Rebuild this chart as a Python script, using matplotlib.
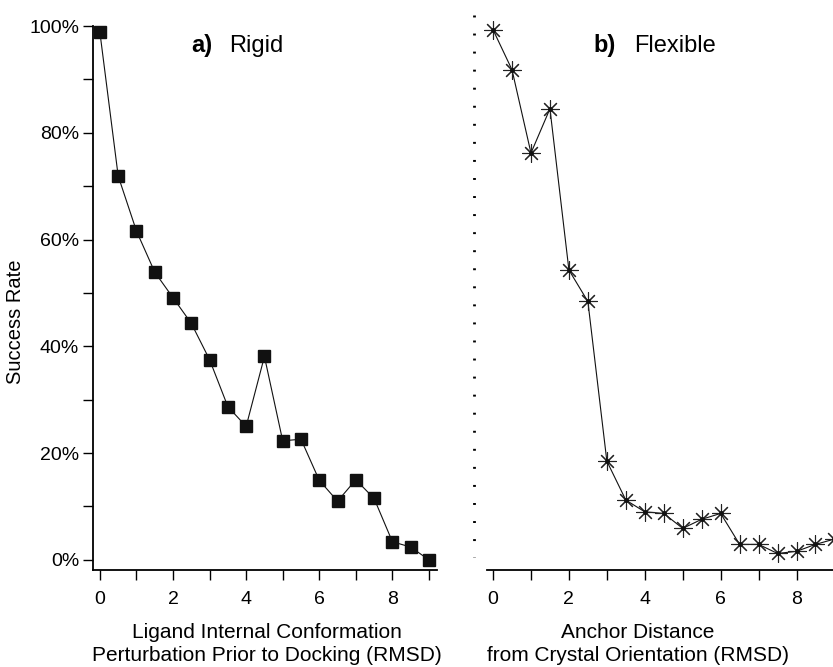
import numpy as np
import matplotlib
matplotlib.use("Agg")
import matplotlib.pyplot as plt
from matplotlib.lines import Line2D
from matplotlib.ticker import FuncFormatter, MultipleLocator

plt.rcParams['font.family'] = ['Liberation Sans', 'DejaVu Sans']

# data
rigid_x = [0, 0.5, 1, 1.5, 2, 2.5, 3, 3.5, 4, 4.5, 5, 5.5, 6, 6.5, 7, 7.5, 8, 8.5, 9]
rigid_y = [98.8, 71.9, 61.6, 53.9, 49.1, 44.3, 37.5, 28.7, 25.0, 38.1, 22.3, 22.6,
           14.9, 11.0, 15.0, 11.5, 3.4, 2.4, 0.0]
flex_x = [0, 0.5, 1, 1.5, 2, 2.5, 3, 3.5, 4, 4.5, 5, 5.5, 6, 6.5, 7, 7.5, 8, 8.5, 9]
flex_y = [99.3, 91.8, 76.2, 84.5, 54.3, 48.4, 18.5, 11.2, 9.0, 8.7, 5.9, 7.6,
          8.7, 2.9, 2.9, 1.2, 1.6, 2.9, 3.9]
yticks = [0, 20, 40, 60, 80, 100]
xticks = [0, 2, 4, 6, 8]

fig = plt.figure(figsize=(8.33, 6.67), dpi=100)
ax1 = fig.add_axes([0.1116, 0.1454, 0.413, 0.8156])
ax2 = fig.add_axes([0.5846, 0.1454, 0.434, 0.8156])

ax1.plot(rigid_x, rigid_y, color='#111111', lw=0.8, marker='s', ms=8,
         mfc='#111111', mec='#111111', clip_on=False, zorder=3)
ax2.plot(flex_x, flex_y, color='#111111', lw=0.8, marker=(8, 2, 0), ms=13,
         mec='#222222', mew=0.8, clip_on=False, zorder=3)
ax2.plot(flex_x, flex_y, ls='none', marker='o', ms=2.5, color='#111111',
         clip_on=False, zorder=4)

ax1.set_xlim(-0.19, 9.22)
ax2.set_xlim(-0.16, 9.37)
for ax in (ax1, ax2):
    ax.set_ylim(-1.9, 100)
    ax.spines['top'].set_visible(False)
    ax.spines['right'].set_visible(False)
    ax.spines['bottom'].set_linewidth(1.3)
    ax.spines['left'].set_linewidth(1.3)
    ax.set_xticks(xticks)
    ax.xaxis.set_minor_locator(MultipleLocator(1))
    ax.tick_params(axis='both', which='both', direction='out', length=7,
                   width=1, labelsize=14, pad=8)

ax1.set_yticks(yticks)
ax1.yaxis.set_minor_locator(MultipleLocator(10))
ax1.yaxis.set_major_formatter(FuncFormatter(lambda v, p: '%d%%' % v))
ax1.tick_params(axis='y', which='both', pad=3)

ax2.spines['left'].set_visible(False)
ax2.set_yticks([])
ax2.yaxis.set_minor_locator(plt.NullLocator())

ax1.set_ylabel('Success Rate', fontsize=14.5)
ax1.yaxis.set_label_coords(-0.198, 0.456, transform=ax1.transAxes)
ax1.set_xlabel('Ligand Internal Conformation\nPerturbation Prior to Docking (RMSD)',
               fontsize=15, linespacing=1.3)
ax2.set_xlabel('Anchor Distance\nfrom Crystal Orientation (RMSD)',
               fontsize=15, linespacing=1.3)
ax1.xaxis.set_label_coords(0.506, -0.097, transform=ax1.transAxes)
ax2.xaxis.set_label_coords(0.418, -0.097, transform=ax2.transAxes)

fig.text(0.230, 0.922, 'a)', fontsize=17, fontweight='bold', va='baseline')
fig.text(0.275, 0.922, 'Rigid', fontsize=17, va='baseline')
fig.text(0.712, 0.922, 'b)', fontsize=17, fontweight='bold', va='baseline')
fig.text(0.761, 0.922, 'Flexible', fontsize=17, va='baseline')

# dotted divider on the left of panel b
fig.add_artist(Line2D([474 / 833, 474 / 833], [1 - 15 / 667, 1 - 557 / 667],
                      transform=fig.transFigure, color='black', lw=2,
                      ls=(0, (0.7, 5.8))))

fig.savefig('out.png', dpi=100)
